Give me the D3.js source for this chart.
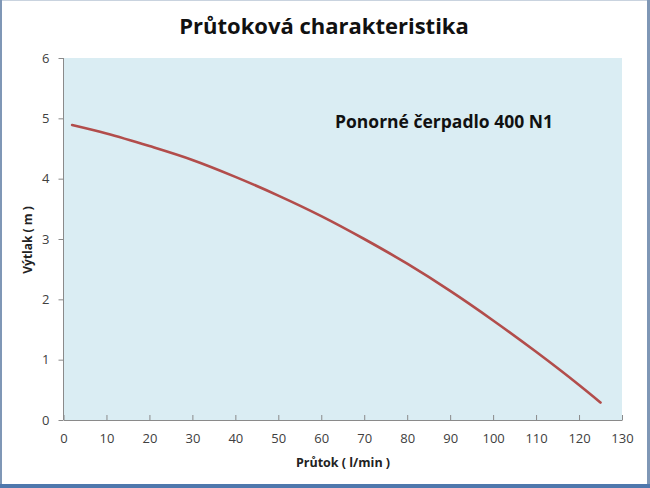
<!DOCTYPE html>
<html>
<head>
<meta charset="utf-8">
<script src="https://cdn.jsdelivr.net/npm/d3@7"></script>
<style>
  html, body { margin: 0; padding: 0; background: #fff; }
  svg { display: block; }
</style>
</head>
<body>
<svg id="chart" width="650" height="488"></svg>
<script>
// Data
const flow = [2, 10, 20, 30, 40, 50, 60, 70, 80, 90, 100, 110, 120, 125];
const head = [4.89, 4.75, 4.54, 4.31, 4.03, 3.72, 3.38, 3.00, 2.59, 2.14, 1.65, 1.13, 0.58, 0.29];
const xTicks = [0, 10, 20, 30, 40, 50, 60, 70, 80, 90, 100, 110, 120, 130];
const yTicks = [0, 1, 2, 3, 4, 5, 6];
const titleText = "Průtoková charakteristika";
const seriesLabel = "Ponorné čerpadlo 400 N1";
const xTitle = "Průtok ( l/min )";
const yTitle = "Výtlak ( m )";

const svg = d3.select("#chart");
const W = 650, H = 488;
const plot = { left: 63.5, right: 622, top: 58, bottom: 420 };
const font = "'Open Sans', Lato, 'DejaVu Sans', sans-serif";

// Outer frame
svg.append("rect").attr("x", 0).attr("y", 0).attr("width", W).attr("height", H).attr("fill", "#fff");
svg.append("line").attr("x1", 0).attr("x2", W).attr("y1", 0.5).attr("y2", 0.5).attr("stroke", "#c9d3df").attr("stroke-width", 1);
svg.append("line").attr("x1", 1).attr("x2", 1).attr("y1", 0).attr("y2", H).attr("stroke", "#7f97b6").attr("stroke-width", 2);
svg.append("line").attr("x1", 648.5).attr("x2", 648.5).attr("y1", 0).attr("y2", H).attr("stroke", "#7f97b6").attr("stroke-width", 3);
svg.append("rect").attr("x", 0).attr("y", 484).attr("width", W).attr("height", 4).attr("fill", "#4f78ad");

const x = d3.scaleLinear().domain([0, 130]).range([plot.left, plot.right]);
const y = d3.scaleLinear().domain([0, 6]).range([plot.bottom, plot.top]);

// Plot area
svg.append("rect")
  .attr("x", plot.left).attr("y", plot.top)
  .attr("width", plot.right - plot.left).attr("height", plot.bottom - plot.top)
  .attr("fill", "#daedf3");

// Title
svg.append("text").attr("x", 324).attr("y", 34).attr("text-anchor", "middle")
  .attr("font-family", font).attr("font-weight", "bold").attr("font-size", 22)
  .attr("fill", "#111").text(titleText);

// Axes
const axisColor = "#8a8a8a";
const xAxis = svg.append("g").attr("transform", `translate(0,${plot.bottom})`)
  .call(d3.axisBottom(x).tickValues(xTicks).tickFormat(d3.format("d")).tickSize(-5).tickPadding(14).tickSizeOuter(0));
const yAxis = svg.append("g").attr("transform", `translate(${plot.left},0)`)
  .call(d3.axisLeft(y).tickValues(yTicks).tickFormat(d3.format("d")).tickSize(5).tickPadding(9).tickSizeOuter(0));
[xAxis, yAxis].forEach(g => {
  g.select(".domain").attr("stroke", axisColor);
  g.selectAll(".tick line").attr("stroke", axisColor);
  g.selectAll(".tick text").attr("font-family", font).attr("font-size", 13).attr("fill", "#404040");
});
yAxis.select(".domain").attr("d", `M0,${plot.top}V${plot.bottom}`);

// Axis titles
svg.append("text").attr("x", 343).attr("y", 467).attr("text-anchor", "middle")
  .attr("font-family", font).attr("font-weight", "bold").attr("font-size", 12.5)
  .attr("fill", "#222").text(xTitle);
svg.append("text").attr("transform", "translate(32,240) rotate(-90)").attr("text-anchor", "middle")
  .attr("font-family", font).attr("font-weight", "bold").attr("font-size", 12)
  .attr("fill", "#222").text(yTitle);

// Curve
const pts = flow.map((f, i) => [f, head[i]]);
svg.append("path").datum(pts)
  .attr("fill", "none").attr("stroke", "#b24d4b").attr("stroke-width", 2.6)
  .attr("stroke-linecap", "round")
  .attr("d", d3.line().x(d => x(d[0])).y(d => y(d[1])).curve(d3.curveMonotoneX));

// Series label
svg.append("text").attr("x", 335).attr("y", 128)
  .attr("font-family", font).attr("font-weight", "bold").attr("font-size", 17.5)
  .attr("fill", "#111").text(seriesLabel);
</script>
</body>
</html>
